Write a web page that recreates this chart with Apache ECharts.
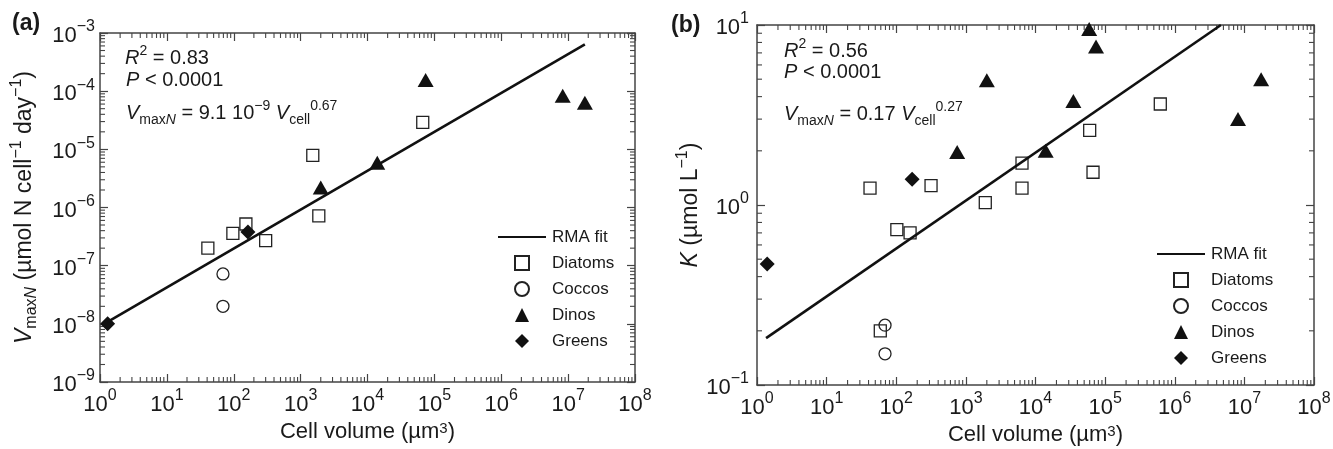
<!DOCTYPE html>
<html>
<head>
<meta charset="utf-8">
<script src="https://cdn.jsdelivr.net/npm/echarts@6/dist/echarts.min.js"></script>
<style>
html, body { margin: 0; background: #fff; }
#chart { width: 1333px; height: 449px; }
</style>
</head>
<body>
<div id="chart"></div>
<script>
// (a) maximum N uptake rate vs cell volume  [volume um^3, rate]
const diatomsA = [[41, 2.0e-7], [97, 3.6e-7], [152, 5.2e-7], [300, 2.7e-7], [1870, 7.2e-7], [1520, 7.9e-6], [67000, 2.9e-5]];
const coccosA = [[69, 7.2e-8], [69, 2.0e-8]];
const dinosA = [[2000, 2.2e-6], [14000, 5.9e-6], [74000, 1.56e-4], [8.3e6, 8.3e-5], [1.78e7, 6.3e-5]];
const greensA = [[1.3, 1.0e-8], [163, 3.8e-7]];
const fitA = [[1.3, 1.08e-8], [1.78e7, 6.4e-4]];

// (b) half saturation K vs cell volume
const diatomsB = [[42, 1.24], [316, 1.28], [1900, 1.03], [102, 0.73], [158, 0.70], [59, 0.2], [6400, 1.24], [6400, 1.71], [60000, 2.6], [67000, 1.52], [620000, 3.64]];
const coccosB = [[69, 0.215], [69, 0.149]];
const dinosB = [[750, 1.97], [2000, 4.94], [14000, 2.0], [35000, 3.78], [59000, 9.5], [74000, 7.6], [8.1e6, 3.0], [1.74e7, 5.0]];
const greensB = [[169, 1.39], [1.4, 0.47]];
const fitB = [[1.35, 0.182], [4.6e6, 10]];

// axes
const xRange = [1, 1e8];
const yRangeA = [1e-9, 1e-3];
const yRangeB = [0.1, 10];
const minorSteps = [2, 3, 4, 5, 6, 7, 8, 9];
const markerNames = ['Diatoms', 'Coccos', 'Dinos', 'Greens'];

const font = 'Liberation Sans';
const ink = '#1a1a1a';
const frame = '#444';

const minorValues = range => {
    const out = [];
    const lo = Math.round(Math.log10(range[0])), hi = Math.round(Math.log10(range[1]));
    for (let e = lo; e < hi; e++) minorSteps.forEach(m => out.push(m * Math.pow(10, e)));
    return out;
};

const tickLabel = v => {
    const e = Math.round(Math.log10(v));
    return '{b|10}{s|' + (e < 0 ? '\u2212' + (-e) : e) + '}';
};

const labelRich = {
    b: {fontSize: 22, fontFamily: font, color: ink, lineHeight: 28, verticalAlign: 'bottom'},
    s: {fontSize: 16, fontFamily: font, color: ink, lineHeight: 16, verticalAlign: 'top'}
};

const textRich = size => ({
    n: {fontSize: size, fontFamily: font, color: ink, lineHeight: size + 8},
    i: {fontSize: size, fontFamily: font, color: ink, fontStyle: 'italic', lineHeight: size + 8},
    sup: {fontSize: Math.round(size * 0.68), fontFamily: font, color: ink, verticalAlign: 'top', lineHeight: 14},
    sub: {fontSize: Math.round(size * 0.68), fontFamily: font, color: ink, verticalAlign: 'bottom', lineHeight: 14},
    subi: {fontSize: Math.round(size * 0.68), fontFamily: font, color: ink, fontStyle: 'italic', verticalAlign: 'bottom', lineHeight: 14}
});

const axis = extra => Object.assign({
    type: 'log', logBase: 10, interval: 1,
    axisLine: {show: true, onZero: false, lineStyle: {color: frame, width: 1.5}},
    axisTick: {show: true, inside: true, length: 8, lineStyle: {color: frame, width: 1.2}},
    axisLabel: {show: false},
    splitLine: {show: false}
}, extra);

const minorSeries = (xi, yi, xr, yr) => {
    const xm = minorValues(xr), ym = minorValues(yr);
    return {
        type: 'custom', xAxisIndex: xi, yAxisIndex: yi, silent: true, z: 1,
        data: [[xr[0], yr[0]]],
        renderItem: (params, api) => {
            const kids = [];
            const st = {stroke: frame, lineWidth: 1.1};
            xm.forEach(v => {
                const b = api.coord([v, yr[0]]), t = api.coord([v, yr[1]]);
                kids.push({type: 'line', shape: {x1: b[0], y1: b[1], x2: b[0], y2: b[1] - 5}, style: st});
                kids.push({type: 'line', shape: {x1: t[0], y1: t[1], x2: t[0], y2: t[1] + 5}, style: st});
            });
            ym.forEach(v => {
                const l = api.coord([xr[0], v]), r = api.coord([xr[1], v]);
                kids.push({type: 'line', shape: {x1: l[0], y1: l[1], x2: l[0] + 5, y2: l[1]}, style: st});
                kids.push({type: 'line', shape: {x1: r[0], y1: r[1], x2: r[0] - 5, y2: r[1]}, style: st});
            });
            return {type: 'group', children: kids};
        }
    };
};

const hollow = {color: 'rgba(255,255,255,0)', borderColor: '#222', borderWidth: 1.3, opacity: 1};
const solid = {color: '#111', opacity: 1};
const panelSeries = (xi, yi, fit, dia, coc, din, gre) => [
    {name: 'RMA fit', type: 'line', xAxisIndex: xi, yAxisIndex: yi, data: fit, symbol: 'none',
        lineStyle: {color: '#111', width: 2.6}, itemStyle: {color: '#111'}},
    {name: 'Diatoms', type: 'scatter', xAxisIndex: xi, yAxisIndex: yi, data: dia, symbol: 'rect', symbolSize: 12, itemStyle: hollow},
    {name: 'Coccos', type: 'scatter', xAxisIndex: xi, yAxisIndex: yi, data: coc, symbol: 'circle', symbolSize: 12, itemStyle: hollow},
    {name: 'Dinos', type: 'scatter', xAxisIndex: xi, yAxisIndex: yi, data: din, symbol: 'triangle', symbolSize: [16, 14], itemStyle: solid},
    {name: 'Greens', type: 'scatter', xAxisIndex: xi, yAxisIndex: yi, data: gre, symbol: 'diamond', symbolSize: [15, 15], itemStyle: solid}
];

const legendText = pad => ({fontFamily: font, fontSize: 17, color: ink, lineHeight: 18, padding: [0, 0, 0, pad]});
// line entry and marker entries are separate legends so markers keep their own shape
const legends = (lineLeft, top) => [
    {left: lineLeft, top, orient: 'vertical', itemWidth: 48, itemHeight: 14, selectedMode: false,
        data: [{name: 'RMA fit', itemStyle: {opacity: 0}}], textStyle: legendText(1)},
    {left: lineLeft + 17, top: top + 26, orient: 'vertical', itemWidth: 14, itemHeight: 14, itemGap: 8, selectedMode: false,
        data: markerNames, textStyle: legendText(18)}
];

const annotation = (left, top, text) => ({
    type: 'text', left, top,
    style: {text, rich: textRich(20), font: '20px ' + font, fill: ink}
});

const supName = {s: {fontSize: 15, verticalAlign: 'top', lineHeight: 14, fontFamily: font, color: ink}};

const chart = echarts.init(document.getElementById('chart'));
chart.setOption({
    animation: false,
    backgroundColor: '#fff',
    textStyle: {fontFamily: font},
    grid: [
        {left: 100, right: 698, top: 33, bottom: 67, outerBoundsMode: 'none'},
        {left: 757, right: 19, top: 25, bottom: 64, outerBoundsMode: 'none'}
    ],
    xAxis: [
        axis({gridIndex: 0, position: 'bottom', min: xRange[0], max: xRange[1],
            axisLabel: {show: true, margin: 6, formatter: tickLabel, rich: labelRich},
            name: 'Cell volume (\u00b5m{s|3})', nameLocation: 'middle', nameGap: 36,
            nameTextStyle: {fontSize: 22, fontFamily: font, color: ink, rich: supName}}),
        axis({gridIndex: 0, position: 'top', min: xRange[0], max: xRange[1]}),
        axis({gridIndex: 1, position: 'bottom', min: xRange[0], max: xRange[1],
            axisLabel: {show: true, margin: 6, formatter: tickLabel, rich: labelRich},
            name: 'Cell volume (\u00b5m{s|3})', nameLocation: 'middle', nameGap: 33,
            nameTextStyle: {fontSize: 22, fontFamily: font, color: ink, rich: supName}}),
        axis({gridIndex: 1, position: 'top', min: xRange[0], max: xRange[1]})
    ],
    yAxis: [
        axis({gridIndex: 0, position: 'left', min: yRangeA[0], max: yRangeA[1],
            axisLabel: {show: true, margin: 5, formatter: tickLabel, rich: labelRich},
            name: '{i|V}{subn|max}{subi|N}{n| (\u00b5mol N cell}{sup|\u22121}{n| day}{sup|\u22121}{n|)}',
            nameLocation: 'middle', nameGap: 60,
            nameTextStyle: {rich: Object.assign(textRich(23), {subn: textRich(23).sub})}}),
        axis({gridIndex: 0, position: 'right', min: yRangeA[0], max: yRangeA[1]}),
        axis({gridIndex: 1, position: 'left', min: yRangeB[0], max: yRangeB[1],
            axisLabel: {show: true, margin: 8, formatter: tickLabel, rich: labelRich},
            name: '{i|K}{n| (\u00b5mol L}{sup|\u22121}{n|)}',
            nameLocation: 'middle', nameGap: 51,
            nameTextStyle: {rich: textRich(23)}}),
        axis({gridIndex: 1, position: 'right', min: yRangeB[0], max: yRangeB[1]})
    ],
    legend: [...legends(492, 223), ...legends(1151, 240)],
    graphic: [
        {type: 'text', left: 12, top: 12, style: {text: '(a)', font: 'bold 23px ' + font, fill: ink}},
        {type: 'text', left: 671, top: 14, style: {text: '(b)', font: 'bold 23px ' + font, fill: ink}},
        annotation(125, 44, '{i|R}{sup|2}{n| = 0.83}'),
        annotation(126, 70, '{i|P}{n| < 0.0001}'),
        annotation(126, 99, '{i|V}{sub|max}{subi|N}{n| = 9.1 10}{sup|\u22129}{n| }{i|V}{sub|cell}{sup|0.67}'),
        annotation(784, 37, '{i|R}{sup|2}{n| = 0.56}'),
        annotation(784, 62, '{i|P}{n| < 0.0001}'),
        annotation(784, 100, '{i|V}{sub|max}{subi|N}{n| = 0.17 }{i|V}{sub|cell}{sup|0.27}')
    ],
    series: [
        minorSeries(0, 0, xRange, yRangeA),
        minorSeries(2, 2, xRange, yRangeB),
        ...panelSeries(0, 0, fitA, diatomsA, coccosA, dinosA, greensA),
        ...panelSeries(2, 2, fitB, diatomsB, coccosB, dinosB, greensB)
    ]
});
</script>
</body>
</html>
